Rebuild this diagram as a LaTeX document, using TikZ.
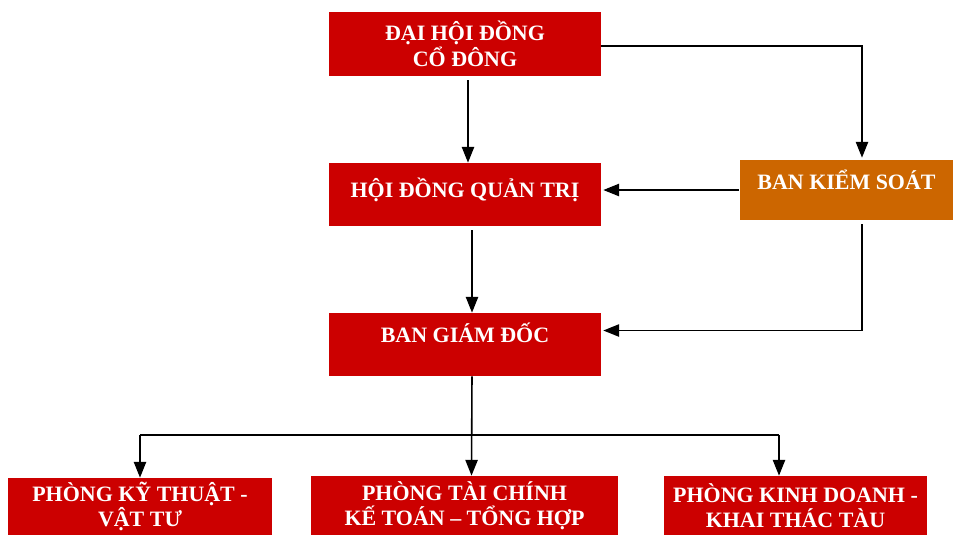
\documentclass[tikz,border=0pt]{standalone}
\usepackage{fontspec}
\setmainfont{Liberation Serif}
\usetikzlibrary{arrows.meta,positioning}
\definecolor{boxred}{HTML}{CC0000}
\definecolor{boxorange}{HTML}{CC6600}
\tikzset{
  unit/.style={rectangle, fill=boxred, text=white, align=center,
    font=\fontsize{12.5}{14.5}\selectfont\bfseries, inner sep=0pt},
  lift/.style={text depth=#1},
  arr/.style={-{Triangle[length=9pt,width=7pt]}, line width=0.9pt},
  link/.style={line width=0.9pt}
}
\begin{document}
\begin{tikzpicture}[x=0.02cm, y=-0.02cm]
    \useasboundingbox (0,0) rectangle (954,535);

    % Top level
    \node[unit, minimum width=5.44cm, minimum height=1.28cm] (dhcd) at (465,44) {ĐẠI HỘI ĐỒNG\\CỔ ĐÔNG};

    % Board and control
    \node[unit, lift=0.28cm, minimum width=5.44cm, minimum height=1.26cm] (hdqt) at (465,194.5) {HỘI ĐỒNG QUẢN TRỊ};
    \node[unit, fill=boxorange, lift=0.40cm, minimum width=4.28cm, minimum height=1.2cm] (bks) at (846.5,190) {BAN KIỂM SOÁT};

    % Management
    \node[unit, lift=0.46cm, minimum width=5.44cm, minimum height=1.26cm] (bgd) at (465,344.5) {BAN GIÁM ĐỐC};

    % Departments
    \node[unit, minimum width=5.28cm, minimum height=1.14cm] (pkt) at (140,506.5) {PHÒNG KỸ THUẬT -\\VẬT TƯ};
    \node[unit, minimum width=6.14cm, minimum height=1.18cm] (ptc) at (464.5,505.5) {PHÒNG TÀI CHÍNH\\KẾ TOÁN – TỔNG HỢP};
    \node[unit, minimum width=5.26cm, minimum height=1.18cm] (pkd) at (795.5,505.5) {PHÒNG KINH DOANH -\\KHAI THÁC TÀU};

    % Branch points
    \coordinate (lft) at (140,435);
    \coordinate (rgt) at (779,435);

    % Vertical chain
    \draw[arr] ([xshift=0.06cm, yshift=-0.08cm]dhcd.south) -- ([xshift=0.06cm]hdqt.north);
    \draw[arr] ([xshift=0.14cm, yshift=-0.08cm]hdqt.south) -- ([xshift=0.14cm]bgd.north);
    \draw[arr] ([xshift=0.14cm]bgd.south) -- ([xshift=0.14cm]ptc.north);

    % Control links
    \draw[arr] ([yshift=-0.04cm]dhcd.east) -| ([xshift=0.31cm, yshift=0.04cm]bks.north);
    \draw[arr] ([yshift=0cm]bks.west) -- ([xshift=0.04cm]bks.west -| hdqt.east);
    \draw[arr] ([xshift=0.31cm, yshift=-0.08cm]bks.south) |- ([xshift=0.04cm, yshift=0.28cm]bgd.east);

    % Departments
    \draw[link] (lft) -- (rgt);
    \draw[arr] (lft) -- (pkt.north -| lft);
    \draw[arr] (rgt) -- (pkd.north -| rgt);

\end{tikzpicture}
\end{document}
